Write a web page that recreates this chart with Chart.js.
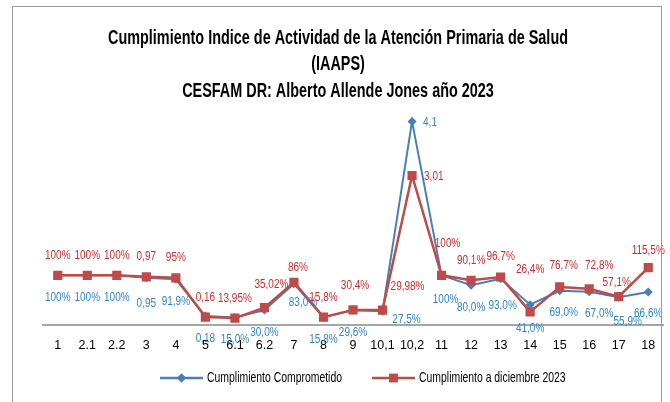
<!DOCTYPE html>
<html>
<head>
<meta charset="utf-8">
<script src="https://cdn.jsdelivr.net/npm/chart.js@4/dist/chart.umd.min.js"></script>
<style>
  html, body { margin: 0; padding: 0; background: #fff; }
  #wrap { position: relative; width: 670px; height: 402px; }
  #frame { position: absolute; left: 12px; top: 6px; width: 650px; height: 400px; border: 1px solid #9a9a9a; border-bottom: none; box-sizing: border-box; pointer-events: none; }
</style>
</head>
<body>
<div id="wrap">
  <canvas id="iaapsChart" width="670" height="402"></canvas>
  <div id="frame"></div>
</div>
<script>
const FONT = "'Liberation Sans', Arial, sans-serif";

const titleLines = [
  "Cumplimiento Indice de Actividad de la Atención Primaria de Salud",
  "(IAAPS)",
  "CESFAM DR: Alberto Allende Jones año 2023"
];

const categories = ["1", "2.1", "2.2", "3", "4", "5", "6.1", "6.2", "7", "8", "9",
  "10,1", "10,2", "11", "12", "13", "14", "15", "16", "17", "18"];

const comprometido = [1, 1, 1, 0.95, 0.919, 0.18, 0.15, 0.30, 0.83, 0.158, 0.296,
  0.275, 4.1, 1, 0.80, 0.93, 0.41, 0.69, 0.67, 0.559, 0.666];

const diciembre = [1, 1, 1, 0.97, 0.95, 0.16, 0.1395, 0.3502, 0.86, 0.158, 0.304,
  0.2998, 3.01, 1, 0.901, 0.967, 0.264, 0.767, 0.728, 0.571, 1.155];

// how each value label is written: "d" plain decimal, "p0".."p2" percent with n decimals
const comprometidoFmt = ["p0", "p0", "p0", "d", "p1", "d", "p1", "p1", "p1", "p1", "p1",
  "p1", "d", "p0", "p1", "p1", "p1", "p1", "p1", "p1", "p1"];

const diciembreFmt = ["p0", "p0", "p0", "d", "p0", "d", "p2", "p2", "p0", "p1", "p1",
  "p2", "d", "p0", "p1", "p1", "p1", "p1", "p1", "p1", "p1"];

const legendNames = ["Cumplimiento Comprometido", "Cumplimiento a diciembre 2023"];

const BLUE = "#4a7ebb";
const RED = "#be4b48";
const BLUE_TEXT = "#2f86c8";
const RED_TEXT = "#d42a2a";

function formatValue(v, fmt) {
  if (fmt === "d") return String(v).replace(".", ",");
  const n = parseInt(fmt.slice(1), 10);
  return (v * 100).toFixed(n).replace(".", ",") + "%";
}

// Calibri-like look: squeeze the text horizontally around its anchor
function narrowText(ctx, txt, x, y, sx) {
  ctx.save();
  ctx.translate(x, y);
  ctx.scale(sx, 1);
  ctx.fillText(txt, 0, 0);
  ctx.restore();
}

// label offsets from the point (dx, dy); anything not listed uses the default
const blueLabelPos = {
  def: [0, 22],
  3: [0, 26], 11: [24, 8], 12: [18, 1], 13: [4, 24], 15: [2, 27], 16: [0, 24],
  8: [9, 19], 17: [4, 22], 18: [10, 22], 19: [9, 24]
};
const redLabelPos = {
  def: [0, -20],
  7: [7, -23], 8: [4, -15], 10: [2, -24], 11: [25, -24], 12: [19, 1], 13: [6, -32],
  16: [0, -42], 17: [4, -21], 18: [10, -23], 19: [-2, -14], 20: [0, -17]
};

const valueLabels = {
  id: "valueLabels",
  afterDatasetsDraw(chart) {
    const ctx = chart.ctx;
    ctx.save();
    ctx.font = "12.5px " + FONT;
    ctx.textBaseline = "middle";
    chart.data.datasets.forEach((ds, di) => {
      const meta = chart.getDatasetMeta(di);
      const pos = ds.labelPos;
      ctx.fillStyle = ds.labelColor;
      meta.data.forEach((pt, i) => {
        const off = pos[i] || pos.def;
        const txt = formatValue(ds.data[i], ds.labelFmt[i]);
        ctx.textAlign = i === 12 ? "left" : "center";
        const x = pt.x + off[0] - (i === 12 ? 7 : 0);
        narrowText(ctx, txt, x, pt.y + off[1], 0.8);
      });
    });
    ctx.restore();
  }
};

const titleAndLegend = {
  id: "titleAndLegend",
  afterDraw(chart) {
    const ctx = chart.ctx;
    ctx.save();
    ctx.fillStyle = "#000";
    ctx.textAlign = "center";
    ctx.textBaseline = "middle";
    ctx.font = "bold 20px " + FONT;
    const sx = 460 / ctx.measureText(titleLines[0]).width;
    const ty = [38, 64, 91];
    titleLines.forEach((t, i) => narrowText(ctx, t, 338, ty[i], sx));

    // legend: short line with the series marker, then the name
    const items = [
      { x: 160, color: BLUE, style: "rectRot", r: 4.5, name: legendNames[0] },
      { x: 372, color: RED, style: "rect", r: 6, name: legendNames[1] }
    ];
    const ly = 378;
    ctx.font = "15px " + FONT;
    ctx.textAlign = "left";
    const lsx = 135 / ctx.measureText(legendNames[0]).width;
    items.forEach(it => {
      ctx.strokeStyle = it.color;
      ctx.lineWidth = 2.5;
      ctx.beginPath();
      ctx.moveTo(it.x, ly);
      ctx.lineTo(it.x + 43, ly);
      ctx.stroke();
      ctx.fillStyle = it.color;
      Chart.helpers.drawPoint(ctx, { pointStyle: it.style, radius: it.r, rotation: 0, borderWidth: 0 }, it.x + 21.5, ly);
      ctx.fill();
      ctx.fillStyle = "#000";
      narrowText(ctx, it.name, it.x + 47, ly, lsx);
    });
    ctx.restore();
  }
};

new Chart(document.getElementById("iaapsChart"), {
  type: "line",
  data: {
    labels: categories,
    datasets: [
      {
        label: legendNames[1],
        data: diciembre,
        borderColor: RED,
        backgroundColor: RED,
        borderWidth: 2.5,
        pointStyle: "rect",
        pointRadius: 6.5,
        pointBorderWidth: 0,
        order: 0,
        labelFmt: diciembreFmt,
        labelPos: redLabelPos,
        labelColor: RED_TEXT
      },
      {
        label: legendNames[0],
        data: comprometido,
        borderColor: BLUE,
        backgroundColor: BLUE,
        borderWidth: 2,
        pointStyle: "rectRot",
        pointRadius: 4.5,
        pointBorderWidth: 0,
        order: 1,
        labelFmt: comprometidoFmt,
        labelPos: blueLabelPos,
        labelColor: BLUE_TEXT
      }
    ]
  },
  options: {
    responsive: false,
    animation: false,
    layout: { padding: { left: 43, right: 7, top: 104, bottom: 36 } },
    plugins: {
      legend: { display: false },
      title: { display: false },
      tooltip: { enabled: false }
    },
    scales: {
      x: {
        offset: true,
        grid: { display: false, drawTicks: false },
        border: { display: true, color: "#a6a6a6", width: 2 },
        ticks: { color: "#000", font: { family: FONT, size: 12.5 }, padding: 13, autoSkip: false, maxRotation: 0 }
      },
      y: {
        display: false,
        min: 0,
        max: 4.45
      }
    }
  },
  plugins: [valueLabels, titleAndLegend]
});
</script>
</body>
</html>
